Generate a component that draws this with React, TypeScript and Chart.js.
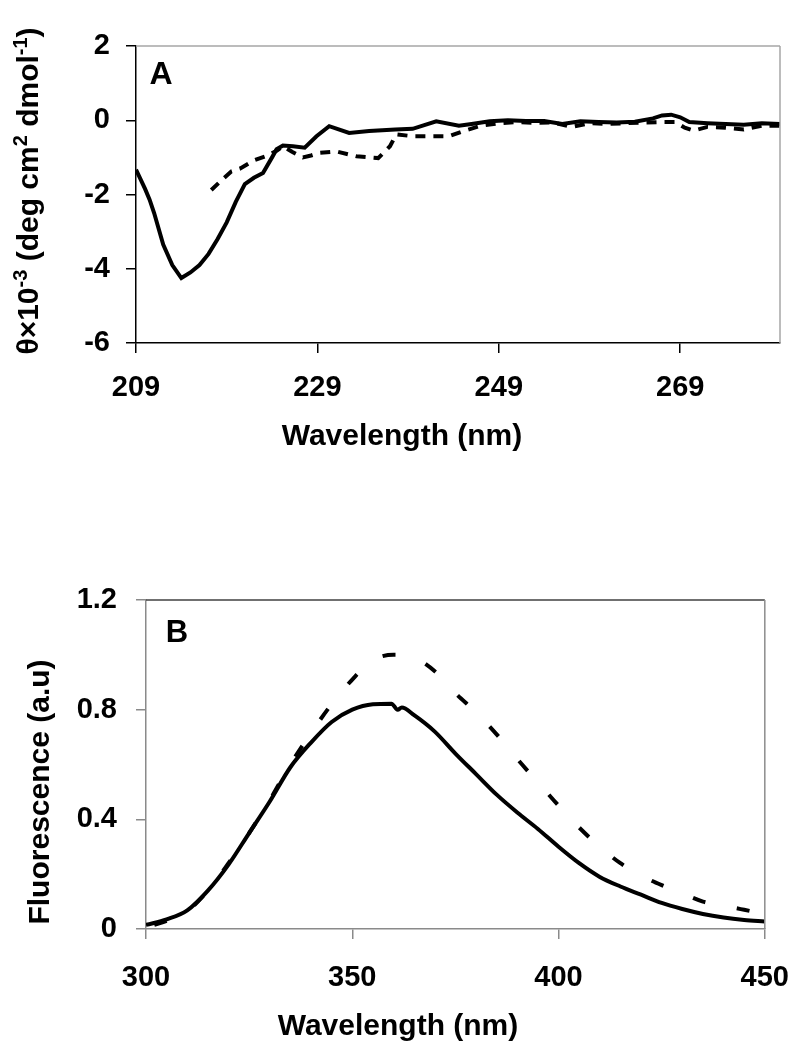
import React, { useEffect, useRef } from "react";
import { Chart, registerables } from "chart.js";

Chart.register(...registerables);

const FONT = "'Liberation Sans', Arial, Helvetica, sans-serif";

// ---------- Panel A : CD spectra ----------
const cdSolidNm = [209, 210, 210.5, 211, 212, 213, 214, 215, 216, 217, 218, 219, 220, 221, 222, 223, 224, 224.5, 225.2, 226.3, 227.6, 228.9, 230.3, 232.5, 234.7, 237.6, 239.5, 242.1, 244.6, 246, 248, 250, 252, 254, 256, 258, 260, 262, 264, 266, 267, 268, 269, 270, 272, 274, 276, 278, 280];
const cdSolid = [-1.33, -1.85, -2.14, -2.5, -3.35, -3.9, -4.25, -4.1, -3.9, -3.6, -3.2, -2.75, -2.2, -1.72, -1.55, -1.42, -1.0, -0.78, -0.68, -0.7, -0.74, -0.43, -0.16, -0.34, -0.29, -0.25, -0.23, -0.03, -0.15, -0.1, -0.03, 0.0, -0.02, -0.02, -0.1, -0.03, -0.05, -0.06, -0.04, 0.05, 0.13, 0.15, 0.08, -0.05, -0.08, -0.1, -0.12, -0.08, -0.1];

const cdDashNm = [217.3, 218.5, 219.5, 220.5, 222, 223.5, 224.5, 225.2, 226.2, 227.4, 228.3, 229.2, 231.1, 233.3, 235.7, 237.0, 237.7, 239.5, 241.4, 243.5, 245, 247, 249, 251, 253, 255, 257, 259, 261, 263, 265, 267, 268.5, 269.5, 270.5, 272, 274, 276, 278, 280];
const cdDash = [-1.88, -1.6, -1.38, -1.3, -1.08, -0.95, -0.82, -0.7, -0.85, -1.0, -0.95, -0.88, -0.84, -0.97, -1.02, -0.7, -0.38, -0.43, -0.43, -0.43, -0.3, -0.15, -0.08, -0.05, -0.07, -0.06, -0.18, -0.08, -0.1, -0.08, -0.06, -0.05, -0.05, -0.2, -0.28, -0.18, -0.2, -0.25, -0.15, -0.15];

const cdXTicks = [209, 229, 249, 269];
const cdYTicks = [-6, -4, -2, 0, 2];

// ---------- Panel B : fluorescence ----------
const flSolidNm = [300, 305, 310, 315, 320, 325, 330, 335, 340, 345, 350, 355, 359.5, 361, 362, 365, 370, 375, 380, 385, 390, 395, 400, 405, 410, 415, 420, 425, 430, 435, 440, 445, 450];
const flSolid = [0.015, 0.035, 0.068, 0.14, 0.235, 0.35, 0.465, 0.59, 0.68, 0.755, 0.8, 0.82, 0.822, 0.8, 0.808, 0.78, 0.72, 0.64, 0.565, 0.49, 0.425, 0.365, 0.3, 0.24, 0.19, 0.155, 0.125, 0.095, 0.073, 0.055, 0.042, 0.033, 0.027];

const flDashNm = [302, 305, 310, 315, 320, 325, 330, 335, 340, 345, 350, 355, 360, 365, 370, 375, 380, 385, 390, 395, 400, 405, 410, 415, 420, 425, 430, 435, 440, 445, 450];
const flDash = [0.015, 0.03, 0.065, 0.14, 0.24, 0.35, 0.47, 0.6, 0.715, 0.82, 0.91, 0.98, 1.0, 0.99, 0.94, 0.86, 0.79, 0.71, 0.62, 0.535, 0.45, 0.37, 0.3, 0.24, 0.195, 0.16, 0.13, 0.1, 0.085, 0.07, 0.055];

const flXTicks = [300, 350, 400, 450];
const flYTicks = [0, 0.4, 0.8, 1.2];

type Seg = { t: string; sup?: boolean };

const cdXTitle: Seg[] = [{ t: "Wavelength (nm)" }];
const cdYTitle: Seg[] = [
  { t: "θ×10" },
  { t: "-3", sup: true },
  { t: " (deg cm" },
  { t: "2", sup: true },
  { t: " dmol" },
  { t: "-1", sup: true },
  { t: ")" },
];
const flXTitle: Seg[] = [{ t: "Wavelength (nm)" }];
const flYTitle: Seg[] = [{ t: "Fluorescence (a.u)" }];

function drawRich(ctx: CanvasRenderingContext2D, segs: Seg[], size: number, cx: number, cy: number, rotate: boolean) {
  ctx.save();
  ctx.translate(cx, cy);
  if (rotate) ctx.rotate(-Math.PI / 2);
  const supSize = Math.round(size * 0.65);
  const widths = segs.map((s) => {
    ctx.font = `bold ${s.sup ? supSize : size}px ${FONT}`;
    return ctx.measureText(s.t).width;
  });
  const total = widths.reduce((a, b) => a + b, 0);
  let x = -total / 2;
  ctx.textBaseline = "middle";
  ctx.textAlign = "left";
  ctx.fillStyle = "#000";
  segs.forEach((s, i) => {
    ctx.font = `bold ${s.sup ? supSize : size}px ${FONT}`;
    ctx.fillText(s.t, x, s.sup ? -size * 0.27 : 0);
    x += widths[i];
  });
  ctx.restore();
}

const annotPlugin = {
  id: "annot",
  afterDraw(chart: any, _args: any, opts: any) {
    const ctx: CanvasRenderingContext2D = chart.ctx;
    const ca = chart.chartArea;
    ctx.save();
    ctx.lineWidth = 1.5;
    ctx.strokeStyle = opts.topColor;
    ctx.beginPath();
    ctx.moveTo(ca.left, ca.top);
    ctx.lineTo(ca.right, ca.top);
    ctx.stroke();
    ctx.strokeStyle = opts.rightColor;
    ctx.beginPath();
    ctx.moveTo(ca.right, ca.top);
    ctx.lineTo(ca.right, ca.bottom);
    ctx.stroke();
    ctx.fillStyle = "#000";
    ctx.font = `bold ${opts.letterSize}px ${FONT}`;
    ctx.textAlign = "center";
    ctx.textBaseline = "middle";
    ctx.fillText(opts.letter, opts.letterX, opts.letterY);
    ctx.restore();
    drawRich(ctx, opts.xTitle, opts.titleSize, opts.xTitleX, opts.xTitleY, false);
    drawRich(ctx, opts.yTitle, opts.titleSize, opts.yTitleX, opts.yTitleY, true);
  },
};

function pts(xs: number[], ys: number[]) {
  return xs.map((x, i) => ({ x, y: ys[i] }));
}

function makeConfig(p: any): any {
  const tickFont = { family: FONT, size: p.tickSize, weight: "bold" as const };
  const grid = { display: true, drawOnChartArea: false, drawTicks: true, tickLength: 10, color: p.axisColor, lineWidth: 1.5 };
  const border = { display: true, color: p.axisColor, width: 1.5 };
  return {
    type: "scatter",
    data: {
      datasets: [
        {
          data: pts(p.dashX, p.dashY),
          showLine: true,
          borderColor: "#000",
          backgroundColor: "#000",
          borderWidth: 4,
          borderDash: p.dash,
          borderCapStyle: "butt",
          pointRadius: 0,
          fill: false,
          tension: 0,
          cubicInterpolationMode: p.smooth ? "monotone" : "default",
        },
        {
          data: pts(p.solidX, p.solidY),
          showLine: true,
          borderColor: "#000",
          backgroundColor: "#000",
          borderWidth: 4,
          pointRadius: 0,
          fill: false,
          tension: 0,
          cubicInterpolationMode: p.smooth ? "monotone" : "default",
        },
      ],
    },
    options: {
      responsive: false,
      animation: false,
      events: [],
      layout: { padding: { left: 0, top: p.padTop, right: p.padRight, bottom: 0 } },
      plugins: {
        legend: { display: false },
        tooltip: { enabled: false },
        annot: p.annot,
      },
      scales: {
        x: {
          type: "linear",
          min: p.xMin,
          max: p.xMax,
          afterBuildTicks: (s: any) => {
            s.ticks = p.xTicks.map((v: number) => ({ value: v }));
          },
          afterFit: (s: any) => {
            s.height = p.xAxisHeight;
          },
          grid,
          border,
          ticks: { color: "#000", font: tickFont, padding: p.xTickPad, maxRotation: 0, autoSkip: false, callback: (v: any) => String(v) },
        },
        y: {
          type: "linear",
          min: p.yMin,
          max: p.yMax,
          afterBuildTicks: (s: any) => {
            s.ticks = p.yTicks.map((v: number) => ({ value: v }));
          },
          afterFit: (s: any) => {
            s.width = p.yAxisWidth;
          },
          grid,
          border,
          ticks: { color: "#000", font: tickFont, padding: p.yTickPad, autoSkip: false, callback: (v: any) => String(v) },
        },
      },
    },
    plugins: [annotPlugin],
  };
}

export default function App() {
  const refA = useRef<HTMLCanvasElement | null>(null);
  const refB = useRef<HTMLCanvasElement | null>(null);

  useEffect(() => {
    const a = new Chart(
      refA.current!,
      makeConfig({
        dashX: cdDashNm,
        dashY: cdDash,
        solidX: cdSolidNm,
        solidY: cdSolid,
        dash: [10, 8],
        smooth: false,
        xMin: 209,
        xMax: 280,
        yMin: -6,
        yMax: 2,
        xTicks: cdXTicks,
        yTicks: cdYTicks,
        padTop: 46,
        padRight: 31,
        xAxisHeight: 177,
        yAxisWidth: 136,
        tickSize: 29,
        xTickPad: 18,
        yTickPad: 16,
        axisColor: "#000",
        annot: {
          topColor: "#a6a6a6",
          rightColor: "#a6a6a6",
          letter: "A",
          letterSize: 32,
          letterX: 161,
          letterY: 75,
          titleSize: 30,
          xTitle: cdXTitle,
          xTitleX: 402,
          xTitleY: 437,
          yTitle: cdYTitle,
          yTitleX: 30,
          yTitleY: 191,
        },
      })
    );
    const b = new Chart(
      refB.current!,
      makeConfig({
        dashX: flDashNm,
        dashY: flDash,
        solidX: flSolidNm,
        solidY: flSolid,
        dash: [13, 32],
        smooth: true,
        xMin: 300,
        xMax: 450,
        yMin: 0,
        yMax: 1.2,
        xTicks: flXTicks,
        yTicks: flYTicks,
        padTop: 80,
        padRight: 31,
        xAxisHeight: 122,
        yAxisWidth: 146,
        tickSize: 29,
        xTickPad: 22,
        yTickPad: 19,
        axisColor: "#8a8a8a",
        annot: {
          topColor: "#404040",
          rightColor: "#8c8c8c",
          letter: "B",
          letterSize: 31,
          letterX: 177,
          letterY: 113,
          titleSize: 30,
          xTitle: flXTitle,
          xTitleX: 398,
          xTitleY: 507,
          yTitle: flYTitle,
          yTitleX: 41,
          yTitleY: 272,
        },
      })
    );
    return () => {
      a.destroy();
      b.destroy();
    };
  }, []);

  return (
    <div>
      <canvas ref={refA} width={811} height={520} style={{ position: "absolute", left: 0, top: 0 }} />
      <canvas ref={refB} width={811} height={531} style={{ position: "absolute", left: 0, top: 520 }} />
    </div>
  );
}
